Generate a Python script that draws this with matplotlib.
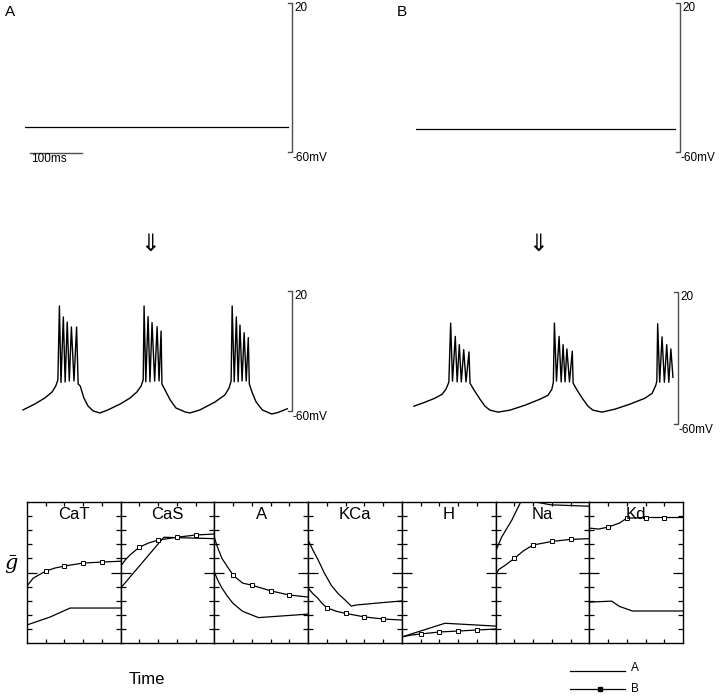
import numpy as np
import matplotlib
matplotlib.use("Agg")
import matplotlib.pyplot as plt

plt.rcParams['font.family'] = ['Liberation Sans', 'DejaVu Sans']

W, H = 720, 696

# resting traces (ms, mV)
rest_a_t = [0, 506]
rest_a_v = [-46.6, -46.6]
rest_b_t = [0, 498]
rest_b_v = [-47.6, -47.6]

# bursting traces (ms, mV)
burst_a = [(0, -59.3), (23, -55.3), (42, -51.3), (56, -47.3), (63, -43.3), (67, -39.3),
           (70, 10), (73, -41), (77.5, 2.7), (81, -40.7), (85, -0.7), (89, -40), (93, -4),
           (98, -40), (103, -4), (106, -42), (110, -43.3), (117, -51.3), (125, -56.7),
           (135, -60), (148, -61.3), (163, -59.3), (187, -55.3), (206, -51.3), (219, -47.3),
           (227, -43.3), (231, -39.3),
           (232.7, 10), (236, -40.5), (240.4, 2.9), (244, -40.5), (248, -1.1), (253, -40),
           (257.7, -3.8), (261.5, -40), (265.4, -6.7), (267, -42), (273, -46), (283, -52.7),
           (294, -58), (312, -60.7), (321, -61.3), (340, -59.3), (369, -54), (388, -49.3),
           (396, -44.7), (400, -40),
           (402, 10), (406, -40.5), (410, 2.7), (413.5, -40.5), (417, -2.7), (421, -40),
           (425, -7.8), (429, -40), (433, -11.1), (435, -42), (440, -47.3), (448, -54),
           (460, -59.3), (478, -62), (490, -61), (508, -58.5)]
burst_b = [(0, -49.2), (21, -46.8), (40, -44.4), (54, -42), (61.5, -38.9), (67, -34.7),
           (70.5, 1.2), (74, -34), (79.4, -6.9), (83, -34.5), (87.1, -11.9), (91, -34.5),
           (95.6, -14.9), (100, -34.5), (105.8, -16.3), (107.7, -35.3), (117, -40.2),
           (127, -45), (136.5, -49.2), (146, -51.6), (161.5, -52.8), (184.6, -51.6),
           (213.5, -48.6), (242, -45), (257.7, -42.6), (265, -39), (268, -34.7),
           (270, 1.2), (274, -34), (279, -6.9), (283, -34.5), (286.7, -11.9), (290.5, -34.5),
           (294, -14.5), (299, -34.5), (304.4, -15.9), (306, -35.3), (315, -40.2), (325, -45),
           (334.6, -49.2), (344, -51.6), (361.5, -52.8), (386.5, -51), (415, -48),
           (444, -44.4), (458, -41.4), (465, -36.5), (467, -34),
           (468.6, 0.75), (472.5, -34.7), (477, -7.2), (481.5, -34.7), (486, -11.9),
           (490, -34.7), (494, -14.5), (498, -31.7)]

# max conductances over time (arbitrary units, 0-10)
channels = ["CaT", "CaS", "A", "KCa", "H", "Na", "Kd"]
cat_t_a = [0, 1.23, 2.3, 5]
cat_a = [1.28, 1.84, 2.48, 2.48]
cat_t_b = [0, 0.33, 1, 1.5, 2, 3, 4, 5]
cat_b = [4.04, 4.6, 5.1, 5.32, 5.46, 5.67, 5.74, 5.8]
cas_t_a = [0, 2.3, 5]
cas_a = [3.9, 7.5, 7.4]
cas_t_b = [0, 0.25, 0.5, 1, 1.5, 2, 3, 4, 5]
cas_b = [5.46, 5.9, 6.25, 6.8, 7.1, 7.3, 7.5, 7.66, 7.73]
a_t_a = [0, 0.2, 0.4, 0.7, 1, 1.5, 2.35, 5]
a_a = [5.0, 4.4, 3.9, 3.3, 2.8, 2.25, 1.8, 2.05]
a_t_b = [0, 0.12, 0.4, 1, 1.5, 2, 3, 4, 5]
a_b = [7.5, 6.95, 6.0, 4.8, 4.25, 4.1, 3.7, 3.4, 3.26]
kca_t_a = [0, 0.25, 0.53, 0.85, 1.23, 1.6, 1.97, 2.3, 2.6, 4, 5]
kca_a = [7.3, 6.6, 5.9, 5.0, 4.1, 3.5, 3.05, 2.62, 2.7, 2.87, 2.98]
kca_t_b = [0, 0.25, 0.5, 0.75, 1, 1.5, 2, 3, 4, 5]
kca_b = [3.9, 3.5, 3.2, 2.8, 2.5, 2.25, 2.1, 1.85, 1.7, 1.63]
h_t_a = [0, 2.3, 5]
h_a = [0.43, 1.4, 1.2]
h_t_b = [0, 0.5, 1, 2, 3, 4, 5]
h_b = [0.43, 0.56, 0.64, 0.78, 0.85, 0.92, 0.99]
na_t_a = [0, 0.32, 0.86, 1.34, 1.75, 2.14, 2.94, 5]
na_a = [6.5, 7.5, 8.7, 10.0, 10.5, 10.0, 9.8, 9.7]
na_t_b = [0, 0.16, 0.5, 1, 1.5, 2, 3, 4, 5]
na_b = [4.8, 5.2, 5.5, 6.0, 6.55, 6.95, 7.2, 7.35, 7.4]
kd_t_a = [0, 1.2, 1.6, 2.3, 5]
kd_a = [2.9, 2.97, 2.6, 2.27, 2.27]
kd_t_b = [0, 0.5, 1, 1.6, 2, 3, 4, 5]
kd_b = [8.15, 8.08, 8.22, 8.5, 8.85, 8.9, 8.9, 8.9]

series = [(cat_t_a, cat_a, cat_t_b, cat_b), (cas_t_a, cas_a, cas_t_b, cas_b),
          (a_t_a, a_a, a_t_b, a_b), (kca_t_a, kca_a, kca_t_b, kca_b),
          (h_t_a, h_a, h_t_b, h_b), (na_t_a, na_a, na_t_b, na_b),
          (kd_t_a, kd_a, kd_t_b, kd_b)]
marker_times = [1, 2, 3, 4]

fig = plt.figure(figsize=(W / 100, H / 100), dpi=100)


def px_axes(x0, y0, x1, y1):
    return fig.add_axes([x0 / W, 1 - y1 / H, (x1 - x0) / W, (y1 - y0) / H])


def vbar(ax, x, tick):
    ax.plot([x - tick, x, x, x - tick], [20, 20, -60, -60], color='0.3', lw=1, clip_on=False)
    ax.annotate('20', xy=(x, 20), xytext=(1.5, -3.5), textcoords='offset points',
                ha='left', va='center', fontsize=8.5)
    ax.annotate('-60mV', xy=(x, -60), xytext=(0.5, -4.5), textcoords='offset points',
                ha='left', va='center', fontsize=8.5)


# top: resting traces
ax1 = px_axes(25, 3, 292, 152)
ax1.plot(rest_a_t, rest_a_v, color='k', lw=0.9)
ax1.set_xlim(0, 513.5)
ax1.set_ylim(-60, 20)
ax1.axis('off')
vbar(ax1, 513.5, 7)
ax1.plot([9.6, 109.6], [-60.6, -60.6], color='0.3', lw=1, clip_on=False)
ax1.text(11.5, -63.8, '100ms', fontsize=8.5, va='center', ha='left')

ax2 = px_axes(416, 3, 680, 152)
ax2.plot(rest_b_t, rest_b_v, color='k', lw=0.9)
ax2.set_xlim(0, 507.7)
ax2.set_ylim(-60, 20)
ax2.axis('off')
vbar(ax2, 507.7, 7)

fig.text(5 / W, 1 - 12 / H, 'A', fontsize=11, va='center', ha='left')
fig.text(397 / W, 1 - 12 / H, 'B', fontsize=11, va='center', ha='left')

fig.text(150 / W, 1 - 244 / H, '\u21d3', fontsize=17, ha='center', va='center',
         family='DejaVu Sans')
fig.text(538 / W, 1 - 244 / H, '\u21d3', fontsize=17, ha='center', va='center',
         family='DejaVu Sans')

# middle: bursting traces
ba = np.array(burst_a)
ax3 = px_axes(23, 291, 292, 411)
ax3.plot(ba[:, 0], ba[:, 1], color='k', lw=1.0, clip_on=False)
ax3.set_xlim(0, 517)
ax3.set_ylim(-60, 20)
ax3.axis('off')
vbar(ax3, 517, 7)

bb = np.array(burst_b)
ax4 = px_axes(414, 292, 678, 424)
ax4.plot(bb[:, 0], bb[:, 1], color='k', lw=1.0, clip_on=False)
ax4.set_xlim(0, 507.7)
ax4.set_ylim(-60, 20)
ax4.axis('off')
vbar(ax4, 507.7, 7)

# bottom: conductance panels
x0, x1 = 27, 683
pw = (x1 - x0) / len(channels)
for i, (name, (ta, va, tb, vb)) in enumerate(zip(channels, series)):
    ax = px_axes(x0 + i * pw, 502, x0 + (i + 1) * pw, 643)
    ax.plot(ta, va, color='k', lw=0.9)
    ax.plot(tb, vb, color='k', lw=0.9)
    tb_arr = np.array(tb)
    vb_arr = np.array(vb)
    m = np.isin(tb_arr, marker_times)
    ax.plot(tb_arr[m], vb_arr[m], ls='none', marker='s', ms=3.2, mfc='white',
            mec='k', mew=0.7)
    ax.set_xlim(0, 5)
    ax.set_ylim(0, 10)
    ax.set_xticks([1, 2, 3, 4])
    ax.set_yticks([5])
    ax.set_yticks([1, 2, 3, 4, 6, 7, 8, 9], minor=True)
    ax.tick_params(which='both', direction='in', top=True, right=True,
                   labelbottom=False, labelleft=False, width=0.9)
    ax.tick_params(axis='x', length=3)
    ax.tick_params(axis='y', which='minor', length=3.5)
    ax.tick_params(axis='y', which='major', length=7)
    for sp in ax.spines.values():
        sp.set_linewidth(1.0)
    ax.text(2.5, 8.8, name, ha='center', va='baseline', fontsize=12)

fig.text(11 / W, 1 - 565 / H, r'$\bar{g}$', fontsize=15, ha='center', va='center',
         math_fontfamily='dejavuserif')
fig.text(147 / W, 1 - 679 / H, 'Time', fontsize=12, ha='center', va='center')

# legend
fig.add_artist(plt.Line2D([570 / W, 625 / W], [1 - 671 / H, 1 - 671 / H], color='k', lw=0.9))
fig.add_artist(plt.Line2D([570 / W, 625 / W], [1 - 689 / H, 1 - 689 / H], color='k', lw=0.9))
fig.add_artist(plt.Line2D([600 / W], [1 - 689 / H], marker='s', ms=2.5, color='k'))
fig.text(631 / W, 1 - 668 / H, 'A', fontsize=8.5, va='center', ha='left')
fig.text(631 / W, 1 - 689 / H, 'B', fontsize=8.5, va='center', ha='left')

fig.savefig('out.png', dpi=100)
